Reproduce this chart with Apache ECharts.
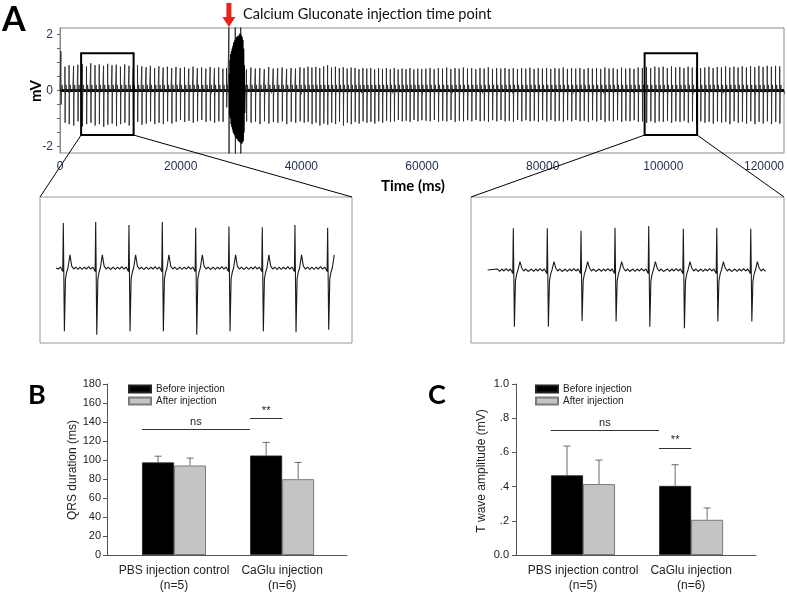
<!DOCTYPE html>
<html><head><meta charset="utf-8">
<script src="https://cdn.jsdelivr.net/npm/echarts@6/dist/echarts.min.js"></script>
<style>html,body{margin:0;padding:0;background:#fff}#c{width:787px;height:593px}</style>
</head><body><div id="c"></div><script>
// ================= DATA =================
// Panel A – main ECG recording
const timeTicks = [0, 20000, 40000, 60000, 80000, 100000, 120000];
const mvTickLabels = [-2, 0, 2];
const mvTickMarks = [-2, -1.5, -1, -0.5, 0, 0.5, 1, 1.5, 2];
const injectionTime = 28000;
// beats: [R-peak time (ms), R amplitude (mV), S amplitude (mV)]
const mainBeats = [
[150,1.4,-0.5],[820,0.85,-1.15],[1500,0.9,-1.2],[2250,0.88,-1.25],[2960,0.92,-1.1],[3700,0.95,-1.28],[4390,0.86,-1.2],[5100,0.97,-1.15],[5800,0.9,-1.25],[6500,0.93,-1.2],
[7220,0.88,-1.3],[7900,0.95,-1.22],[8620,0.9,-1.18],[9330,0.92,-1.27],[10020,0.85,-1.2],[10730,0.93,-1.15],[11440,0.88,-1.25],[12150,0.82,-1.2],[12850,0.9,-1.12],[13560,0.86,-1.22],
[14270,0.83,-1.18],[14980,0.88,-1.1],[15680,0.8,-1.2],[16390,0.86,-1.15],[17100,0.82,-1.2],[17800,0.85,-1.1],[18520,0.8,-1.18],[19230,0.84,-1.12],[19940,0.8,-1.05],[20640,0.83,-1.12],
[21350,0.78,-1.08],[22060,0.85,-1.15],[22770,0.8,-1.1],[23470,0.82,-1.05],[24180,0.78,-1.12],[24890,0.84,-1.08],[25600,0.8,-1.15],[26300,0.83,-1.1],[27000,0.78,-1.12],[27600,0.8,-0.6],
[30900,0.75,-1.1],[31640,0.82,-1.15],[32380,0.78,-1.12],[33120,0.8,-1.2],[33860,0.76,-1.1],[34600,0.84,-1.18],[35340,0.78,-1.12],[36080,0.8,-1.15],[36820,0.82,-1.1],[37560,0.77,-1.2],
[38300,0.8,-1.12],[39040,0.78,-1.15],[39780,0.83,-1.1],
[40450,0.8,-1.15],[41100,0.85,-1.12],[41750,0.82,-1.2],[42400,0.84,-1.15],[43050,0.8,-1.25],[43700,0.86,-1.18],[44350,0.9,-1.22],[45000,0.82,-1.15],[45650,0.85,-1.2],[46300,0.8,-1.12],
[46950,0.83,-1.25],[47600,0.78,-1.15],[48250,0.82,-1.2],[48900,0.8,-1.12],[49550,0.76,-1.18],[50200,0.8,-1.1],[50850,0.78,-1.15],[51500,0.8,-1.12],[52150,0.75,-1.18],[52800,0.8,-1.1],
[53450,0.77,-1.15],[54100,0.8,-1.08],[54750,0.76,-1.12],[55400,0.8,-1.1],[56050,0.75,-1.05],[56700,0.78,-1.1],[57350,0.76,-1.08],[58000,0.8,-1.12],[58650,0.75,-1.05],[59300,0.78,-1.1],
[59950,0.77,-1.06],
[60640,0.78,-1.08],[61330,0.8,-1.1],[62020,0.76,-1.05],[62710,0.8,-1.12],[63400,0.78,-1.08],[64090,0.82,-1.1],[64780,0.77,-1.05],[65470,0.8,-1.12],[66160,0.78,-1.08],[66850,0.82,-1.1],
[67540,0.78,-1.06],[68230,0.8,-1.1],[68920,0.76,-1.05],[69610,0.8,-1.1],[70300,0.78,-1.08],[70990,0.83,-1.12],[71680,0.77,-1.06],[72370,0.8,-1.1],[73060,0.78,-1.05],[73750,0.8,-1.1],
[74440,0.77,-1.08],[75130,0.8,-1.12],[75820,0.76,-1.05],[76510,0.8,-1.1],[77200,0.78,-1.06],[77890,0.81,-1.1],[78580,0.77,-1.08],[79270,0.8,-1.12],[79960,0.78,-1.06],[80650,0.8,-1.1],
[81340,0.77,-1.05],[82030,0.8,-1.1],[82720,0.78,-1.08],[83410,0.82,-1.12],[84100,0.77,-1.06],[84790,0.8,-1.1],[85480,0.78,-1.05],[86170,0.8,-1.1],[86860,0.76,-1.08],[87550,0.8,-1.12],
[88240,0.78,-1.06],[88930,0.8,-1.1],[89620,0.77,-1.05],[90310,0.82,-1.12],[91000,0.78,-1.08],[91690,0.8,-1.1],[92380,0.76,-1.06],[93070,0.82,-1.12],[93760,0.78,-1.08],[94450,0.8,-1.1],
[95140,0.77,-1.06],[95830,0.82,-1.12],[96520,0.8,-1.1],[97210,0.84,-1.15],[97900,0.8,-1.1],[98590,0.85,-1.15],[99280,0.82,-1.1],[99970,0.85,-1.12],[100660,0.8,-1.08],[101350,0.86,-1.15],
[102040,0.82,-1.1],[102730,0.84,-1.12],[103420,0.8,-1.08],[104110,0.85,-1.15],[104800,0.82,-1.1],[105490,0.84,-1.2],[106180,0.8,-1.1],[106870,0.82,-1.15],[107560,0.85,-1.12],[108250,0.8,-1.18],
[108940,0.84,-1.1],[109630,0.82,-1.15],[110320,0.86,-1.12],[111010,0.82,-1.2],[111700,0.85,-1.1],[112390,0.82,-1.15],[113080,0.86,-1.12],[113770,0.82,-1.18],[114460,0.87,-1.1],[115150,0.83,-1.2],
[115840,0.88,-1.12],[116530,0.84,-1.18],[117220,0.88,-1.1],[117910,0.85,-1.2],[118600,0.88,-1.12],[119290,0.86,-1.18]
];
const mainTWave = 0.2;
// high-amplitude burst right after the injection: [time (ms), mV]
const burst = [
[28050,0.6],[28110,-0.9],[28170,1.1],[28230,-1.0],[28290,1.3],[28350,-1.2],[28410,1.4],[28470,-1.3],[28530,1.5],[28590,-1.4],
[28650,1.6],[28710,-1.5],[28770,1.7],[28830,-1.55],[28890,1.75],[28950,-1.6],[29010,1.8],[29070,-1.65],[29130,1.85],[29190,-1.7],
[29250,1.9],[29310,-1.72],[29370,1.92],[29430,-1.75],[29490,1.95],[29550,-1.8],[29610,1.95],[29670,-1.82],[29730,2.0],[29790,-1.85],
[29850,2.05],[29910,-1.85],[29970,2.0],[30030,-1.88],[30090,1.95],[30150,-1.9],[30210,1.9],[30270,-1.85],[30330,1.8],[30390,-1.8],
[30450,1.5],[30510,-1.5],[30570,0.9],[30630,-0.8],[30690,0.2]
];
const artifactSpikes = [28000, 29050, 29950];
const artifactAmp = 2.6;
const baseline = [[0, 0], [120000, 0]];
// single-beat waveform template: offsets from R peak (ms) and values (mV, or R/S/T placeholders)
const waveOffsets = [-440,-380,-320,-260,-200,-140,-80,-40,-15,0,30,60,95,130,185,235,290,350,410];
const waveValues  = [0.02,-0.03,0.02,-0.02,0.03,-0.02,0.02,0.05,-0.07,'R','S',-0.22,-0.08,0,'T',0.04,-0.02,0.02,-0.03];
// zoom boxes on the main trace: [t0, t1, mVmin, mVmax]
const zoomBox1 = [3500, 12200, -1.59, 1.33];
const zoomBox2 = [96900, 105600, -1.59, 1.33];
// insets
const inset1Span = [3946, 11753];
const inset1YRange = [-1.53, 1.45];
const inset1Beats = [[4150,0.92,-1.29],[5053,0.94,-1.36],[5981,0.88,-1.29],[6910,0.94,-1.29],[7841,0.82,-1.36],[8769,0.85,-1.29],[9698,0.83,-1.29],[10609,0.88,-1.31],[11521,0.82,-1.26]];
const inset1TWave = 0.27;
const inset2Span = [97364, 105120];
const inset2YRange = [-1.49, 1.49];
const inset2Beats = [[98076,0.85,-1.16],[99021,0.85,-1.16],[99958,0.80,-1.04],[100903,0.86,-1.05],[101840,0.90,-1.16],[102802,0.84,-1.19],[103731,0.86,-1.05],[104676,0.84,-1.05]];
const inset2TWave = 0.17;

// Panels B & C
const groups = ['PBS injection control\n(n=5)', 'CaGlu injection\n(n=6)'];
const seriesNames = ['Before injection', 'After injection'];
const qrsBefore = [97.4, 104.7];
const qrsBeforeErr = [6.6, 13.8];
const qrsAfter = [94.2, 79.8];
const qrsAfterErr = [7.8, 17.6];
const twBefore = [0.466, 0.404];
const twBeforeErr = [0.171, 0.124];
const twAfter = [0.415, 0.206];
const twAfterErr = [0.14, 0.069];
// significance brackets: [xStart, xEnd, level, label]
const qrsSig = [[0.85, 1.85, 132, 'ns'], [1.85, 2.15, 144, '**']];
const twSig = [[0.85, 1.85, 0.73, 'ns'], [1.85, 2.15, 0.627, '**']];

// ================= BUILD =================
function buildTrace(beats, tWave, span) {
  const pts = [];
  for (let i = 0; i < beats.length; i++) {
    const [t, r, s] = beats[i];
    const lo = i > 0 ? (beats[i-1][0] + t) / 2 : (span ? span[0] : -Infinity);
    const hi = i < beats.length - 1 ? (beats[i+1][0] + t) / 2 : (span ? span[1] : Infinity);
    for (let j = 0; j < waveOffsets.length; j++) {
      const tt = t + waveOffsets[j];
      if (tt < lo || tt >= hi) continue;
      let v = waveValues[j];
      if (v === 'R') v = r; else if (v === 'S') v = s; else if (v === 'T') v = tWave;
      pts.push([tt, v]);
    }
  }
  if (span && pts.length && pts[0][0] > span[0]) pts.unshift([span[0], 0]);
  return pts;
}
let mainTrace = buildTrace(mainBeats, mainTWave, [0, 120000]);
artifactSpikes.forEach(t => { mainTrace.push([t-10, 0], [t, artifactAmp], [t+20, -artifactAmp], [t+30, 0]); });
mainTrace.sort((a, b) => a[0] - b[0]);
const inset1Trace = buildTrace(inset1Beats, inset1TWave, inset1Span);
const inset2Trace = buildTrace(inset2Beats, inset2TWave, inset2Span);

const chart = echarts.init(document.getElementById('c'), null, {renderer: 'canvas'});
const FONT = 'Liberation Sans';
const navy = '#22324f';
const barW = 32;

function errSeries(xi, vals, errs, offset) {
  return {
    type: 'custom', xAxisIndex: xi, yAxisIndex: xi, silent: true, z: 1,
    data: vals.map((v, i) => [i + 1, v, errs[i]]),
    renderItem: (params, api) => {
      const x = api.value(0), v = api.value(1), e = api.value(2);
      const a = api.coord([x, v]), b = api.coord([x, v + e]);
      const cx = a[0] + offset;
      return {type: 'group', children: [
        {type: 'line', shape: {x1: cx, y1: a[1], x2: cx, y2: b[1]}, style: {stroke: '#6a6a6a', lineWidth: 1}},
        {type: 'line', shape: {x1: cx - 3.5, y1: b[1], x2: cx + 3.5, y2: b[1]}, style: {stroke: '#6a6a6a', lineWidth: 1}}
      ]};
    }
  };
}
function sigMarkLine(sig) {
  return {
    silent: true, symbol: 'none',
    lineStyle: {color: '#333', width: 1, type: 'solid'},
    label: {show: true, position: 'insideMiddleTop', formatter: p => p.name, color: '#222', fontSize: 11, fontFamily: FONT, distance: 2},
    data: sig.map(s => [{coord: [s[0], s[2]], name: s[3]}, {coord: [s[1], s[2]]}])
  };
}
function barSeries(xi, name, vals, style, sig) {
  const s = {type: 'bar', name, xAxisIndex: xi, yAxisIndex: xi, data: vals.map((v, i) => [i + 1, v]),
    barWidth: barW, barGap: '0%', itemStyle: style, z: 2, silent: true};
  if (sig) s.markLine = sigMarkLine(sig);
  return s;
}
const beforeStyle = {color: '#000', borderColor: '#222', borderWidth: 0.8};
const afterStyle = {color: '#c4c4c4', borderColor: '#7a7a7a', borderWidth: 1};

function catXAxis(gi) {
  return {type: 'value', gridIndex: gi, min: 0.38, max: 2.6,
    axisLine: {show: true, lineStyle: {color: '#555'}}, axisTick: {show: false}, splitLine: {show: false},
    axisLabel: {customValues: [1, 2], formatter: v => groups[Math.round(v) - 1], fontSize: 12, lineHeight: 15, color: '#222', margin: 8, fontFamily: FONT}};
}
function barYAxis(gi, max, interval, fmt, margin) {
  return {type: 'value', gridIndex: gi, min: 0, max, interval,
    axisLine: {show: true, lineStyle: {color: '#555'}}, axisTick: {show: true, length: 4, lineStyle: {color: '#555'}},
    splitLine: {show: false}, axisLabel: {fontSize: 11, color: '#222', margin, formatter: fmt, fontFamily: FONT}};
}

const option = {
  animation: false,
  textStyle: {fontFamily: FONT},
  grid: [
    {left: 60, top: 28, width: 725, height: 125, show: true, borderColor: '#8a8a8a', borderWidth: 1},
    {left: 40, top: 197, width: 312, height: 146, show: true, borderColor: '#9a9a9a', borderWidth: 1},
    {left: 471, top: 197, width: 313, height: 146, show: true, borderColor: '#9a9a9a', borderWidth: 1},
    {left: 107, top: 384, width: 240, height: 171},
    {left: 516, top: 384, width: 240, height: 172}
  ],
  xAxis: [
    {type: 'value', gridIndex: 0, min: timeTicks[0], max: timeTicks[timeTicks.length-1], interval: 20000,
      axisLine: {show: true, lineStyle: {color: '#8a8a8a'}},
      axisTick: {show: true, length: 4, lineStyle: {color: '#666'}},
      minorTick: {show: true, splitNumber: 4, length: 3, lineStyle: {color: '#666'}},
      splitLine: {show: false},
      axisLabel: {fontSize: 12, color: navy, margin: 8, alignMaxLabel: 'right', formatter: v => String(v)}},
    {type: 'value', gridIndex: 1, min: inset1Span[0] - 446, max: inset1Span[1] + 447, show: false},
    {type: 'value', gridIndex: 2, min: inset2Span[0] - 464, max: inset2Span[1] + 480, show: false},
    catXAxis(3), catXAxis(4)
  ],
  yAxis: [
    {type: 'value', gridIndex: 0, min: -2.23, max: 2.23,
      axisLine: {show: true, lineStyle: {color: '#8a8a8a'}},
      axisTick: {show: true, length: 3, customValues: mvTickMarks, lineStyle: {color: '#666'}},
      splitLine: {show: false},
      axisLabel: {fontSize: 12, color: navy, margin: 7, customValues: mvTickLabels}},
    {type: 'value', gridIndex: 1, min: inset1YRange[0], max: inset1YRange[1], show: false},
    {type: 'value', gridIndex: 2, min: inset2YRange[0], max: inset2YRange[1], show: false},
    barYAxis(3, 180, 20, v => String(v), 6),
    barYAxis(4, 1.0, 0.2, v => v === 0 ? '0.0' : (v >= 1 ? v.toFixed(1) : v.toFixed(1).replace(/^0/, '')), 7)
  ],
  legend: [
    {data: seriesNames, left: 123, top: 379, orient: 'vertical', icon: 'rect', itemWidth: 22, itemHeight: 7, itemGap: 2,
      selectedMode: false, textStyle: {fontSize: 10, color: '#222', fontFamily: FONT}},
    {data: seriesNames, left: 530, top: 379, orient: 'vertical', icon: 'rect', itemWidth: 22, itemHeight: 7, itemGap: 2,
      selectedMode: false, textStyle: {fontSize: 10, color: '#222', fontFamily: FONT}}
  ],
  series: [
    {type: 'line', xAxisIndex: 0, yAxisIndex: 0, data: baseline, showSymbol: false, silent: true,
      lineStyle: {color: '#000', width: 3}, z: 2},
    {type: 'line', xAxisIndex: 0, yAxisIndex: 0, data: mainTrace, showSymbol: false, silent: true,
      lineStyle: {color: '#2a2a2a', width: 0.9}, z: 3},
    {type: 'line', xAxisIndex: 0, yAxisIndex: 0, data: burst, showSymbol: false, silent: true,
      lineStyle: {color: '#000', width: 1.2}, z: 4},
    {type: 'line', xAxisIndex: 1, yAxisIndex: 1, data: inset1Trace, showSymbol: false, silent: true,
      lineStyle: {color: '#1a1a1a', width: 1.1}},
    {type: 'line', xAxisIndex: 2, yAxisIndex: 2, data: inset2Trace, showSymbol: false, silent: true,
      lineStyle: {color: '#1a1a1a', width: 1.1}},
    errSeries(3, qrsBefore, qrsBeforeErr, -barW/2),
    errSeries(3, qrsAfter, qrsAfterErr, barW/2),
    barSeries(3, seriesNames[0], qrsBefore, beforeStyle, qrsSig),
    barSeries(3, seriesNames[1], qrsAfter, afterStyle),
    errSeries(4, twBefore, twBeforeErr, -barW/2),
    errSeries(4, twAfter, twAfterErr, barW/2),
    barSeries(4, seriesNames[0], twBefore, beforeStyle, twSig),
    barSeries(4, seriesNames[1], twAfter, afterStyle)
  ]
};
chart.setOption(option);

// ----- annotations positioned through the axes -----
const px = (gi, v) => chart.convertToPixel({gridIndex: gi}, v);
const g = [];
function zoomGraphics(box, insetGi, insetX0, insetX1, insetYmax) {
  const tl = px(0, [box[0], box[3]]), br = px(0, [box[1], box[2]]);
  const itl = px(insetGi, [insetX0, insetYmax]), itr = px(insetGi, [insetX1, insetYmax]);
  g.push({type: 'rect', shape: {x: tl[0], y: tl[1], width: br[0] - tl[0], height: br[1] - tl[1]},
    style: {fill: 'none', stroke: '#000', lineWidth: 2}, z: 10});
  g.push({type: 'line', shape: {x1: tl[0], y1: br[1], x2: itl[0], y2: itl[1]}, style: {stroke: '#000', lineWidth: 1}, z: 10});
  g.push({type: 'line', shape: {x1: br[0], y1: br[1], x2: itr[0], y2: itr[1]}, style: {stroke: '#000', lineWidth: 1}, z: 10});
}
zoomGraphics(zoomBox1, 1, option.xAxis[1].min, option.xAxis[1].max, inset1YRange[1]);
zoomGraphics(zoomBox2, 2, option.xAxis[2].min, option.xAxis[2].max, inset2YRange[1]);
const ix = px(0, [injectionTime, 0])[0];
g.push({type: 'polygon', shape: {points: [[ix-2.5,3],[ix+2.5,3],[ix+2.5,17],[ix+6.5,17],[ix,27],[ix-6.5,17],[ix-2.5,17]]},
  style: {fill: '#e8231c'}, z: 11});
g.push({type: 'text', x: ix + 14, y: 14, style: {text: 'Calcium Gluconate injection time point', font: '14.6px Lato', fill: '#111', textVerticalAlign: 'middle'}, z: 11});
g.push({type: 'text', x: 2, y: 20, style: {text: 'A', font: 'bold 34px Lato', fill: '#000', textVerticalAlign: 'middle'}});
g.push({type: 'text', x: 28, y: 395, style: {text: 'B', font: 'bold 27px Lato', fill: '#000', textVerticalAlign: 'middle'}});
g.push({type: 'text', x: 428, y: 395, style: {text: 'C', font: 'bold 27px Lato', fill: '#000', textVerticalAlign: 'middle'}});
g.push({type: 'text', x: 36, y: 91, rotation: Math.PI/2, style: {text: 'mV', font: 'bold 15px Lato', fill: '#000', textAlign: 'center', textVerticalAlign: 'middle'}});
g.push({type: 'text', x: 413, y: 186, style: {text: 'Time (ms)', font: 'bold 15px Lato', fill: '#000', textAlign: 'center', textVerticalAlign: 'middle'}});
g.push({type: 'text', x: 73, y: 470, rotation: Math.PI/2, style: {text: 'QRS duration (ms)', font: '12px "Liberation Sans"', fill: '#222', textAlign: 'center', textVerticalAlign: 'middle'}});
g.push({type: 'text', x: 482, y: 471, rotation: Math.PI/2, style: {text: 'T wave amplitude (mV)', font: '12px "Liberation Sans"', fill: '#222', textAlign: 'center', textVerticalAlign: 'middle'}});
chart.setOption({graphic: {elements: g}});
</script></body></html>
